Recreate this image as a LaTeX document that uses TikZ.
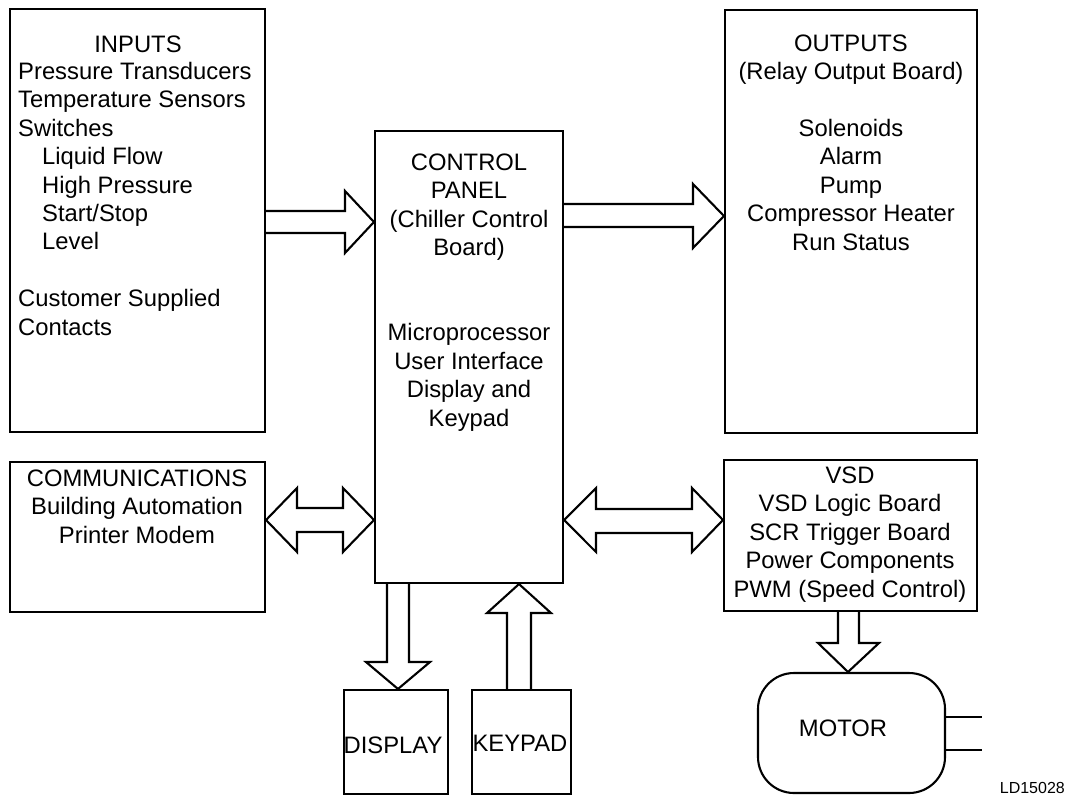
\documentclass[tikz,border=0pt]{standalone}
\usepackage{fontspec}
\setmainfont{Liberation Sans}

\begin{document}
\begin{tikzpicture}[x=1pt, y=-1pt,
        box/.style={draw, line width=2.1pt, inner sep=0pt},
        fat/.style={draw, line width=2.1pt},
        txt/.style={inner sep=0pt, anchor=base, align=center, font=\fontsize{23.8}{28.4}\selectfont}]
    \useasboundingbox (0,0) rectangle (1070,796);

    % Blocks
    \node[box, minimum width=255pt, minimum height=423pt] (inputs) at (137.5,220.5) {};
    \node[box, minimum width=252pt, minimum height=423pt] (outputs) at (851,221.5) {};
    \node[box, minimum width=188pt, minimum height=452pt] (control) at (469,357) {};
    \node[box, minimum width=255pt, minimum height=150pt] (comm) at (137.5,537) {};
    \node[box, minimum width=253pt, minimum height=151pt] (vsd) at (850.5,535.5) {};
    \node[box, minimum width=104pt, minimum height=104pt] (display) at (396,742) {};
    \node[box, minimum width=99pt, minimum height=104pt] (keypad) at (521.5,742) {};
    \node[box, rounded corners=36pt, minimum width=187pt, minimum height=120pt] (motor) at (851.5,733) {};

    % Texts (multi-line nodes sit on the baseline of their last line)
    \node[txt] (inputs-title) at (138,52) {INPUTS};
    \node[txt, anchor=base west, align=left] (inputs-list) at (18,335) {Pressure Transducers\\
        Temperature Sensors\\
        Switches\\
        \hspace*{24pt}Liquid Flow\\
        \hspace*{24pt}High Pressure\\
        \hspace*{24pt}Start/Stop\\
        \hspace*{24pt}Level\\[28.4pt]
        Customer Supplied\\
        Contacts};
    \node[txt] (outputs-text) at (851,250) {OUTPUTS\\(Relay Output Board)\\[28.4pt]Solenoids\\Alarm\\Pump\\Compressor Heater\\Run Status};
    \node[txt] (control-text) at (469,426) {CONTROL\\PANEL\\(Chiller Control\\Board)\\[56.8pt]Microprocessor\\User Interface\\Display and\\Keypad};
    \node[txt] (comm-text) at (137,543) {COMMUNICATIONS\\Building Automation\\Printer Modem};
    \node[txt] (vsd-text) at (850,597) {VSD\\VSD Logic Board\\SCR Trigger Board\\Power Components\\PWM (Speed Control)};
    \node[txt] (display-text) at (393,753) {DISPLAY};
    \node[txt] (keypad-text) at (520,751) {KEYPAD};
    \node[txt] (motor-text) at (843,736) {MOTOR};
    \node[inner sep=0pt, anchor=base east, font=\fontsize{16}{19}\selectfont] (ref) at (1065,793) {LD15028};

    % inputs -> control
    \draw[fat] (inputs.east |- 0,211) -- (345,211) -- (345,191) -- (control.west |- 0,222)
        -- (345,253) -- (345,233) -- (inputs.east |- 0,233);
    % control -> outputs
    \draw[fat] (control.east |- 0,204) -- (693,204) -- (693,184) -- (outputs.west |- 0,216)
        -- (693,248) -- (693,227) -- (control.east |- 0,227);
    % comm <-> control
    \draw[fat] (comm.east |- 0,520) -- (297,488) -- (297,508) -- (343,508) -- (343,488)
        -- (control.west |- 0,520) -- (343,552) -- (343,532) -- (297,532) -- (297,552) -- cycle;
    % control <-> vsd
    \draw[fat] (control.east |- 0,520) -- (596,488) -- (596,509) -- (692,509) -- (692,488)
        -- (vsd.west |- 0,520) -- (692,552) -- (692,533) -- (596,533) -- (596,552) -- cycle;
    % control -> display
    \draw[fat] (control.south -| 387,0) -- (387,662) -- (366,662) -- (display.north -| 398,0)
        -- (430,662) -- (409,662) -- (control.south -| 409,0);
    % keypad -> control
    \draw[fat] (keypad.north -| 507,0) -- (507,613) -- (487,613) -- (control.south -| 519,0)
        -- (551,613) -- (531,613) -- (keypad.north -| 531,0);
    % vsd -> motor
    \draw[fat] (vsd.south -| 838,0) -- (838,643) -- (818,643) -- (motor.north -| 848,0)
        -- (879,643) -- (859,643) -- (vsd.south -| 859,0);

    % motor shaft
    \coordinate (shaftA) at (982,717);
    \coordinate (shaftB) at (982,750);
    \draw[fat] (motor.east |- shaftA) -- (shaftA);
    \draw[fat] (motor.east |- shaftB) -- (shaftB);
\end{tikzpicture}
\end{document}
